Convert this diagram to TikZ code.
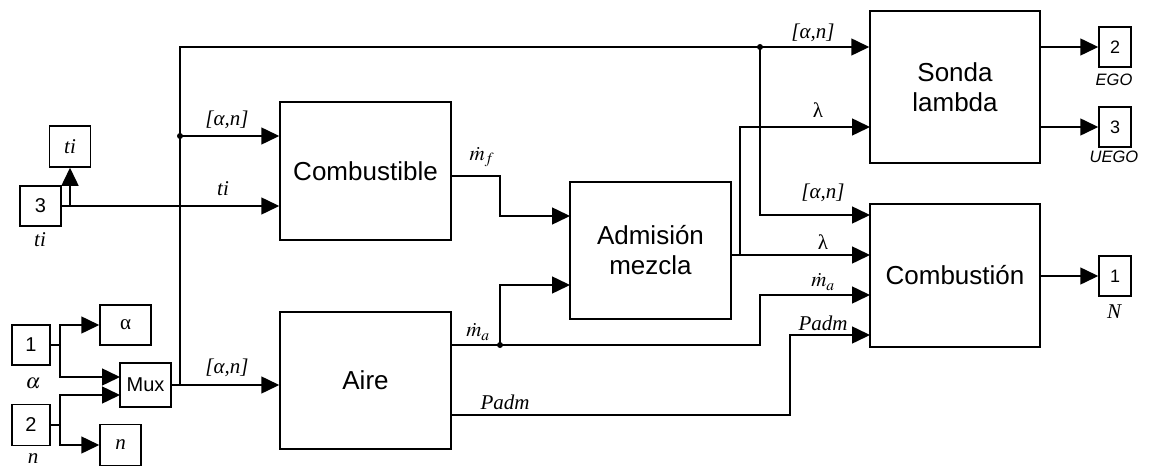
\documentclass[tikz,border=0pt]{standalone}
\usepackage{mathptmx}
\usepackage{fontspec}
\setmainfont{Liberation Serif}
\newfontfamily\lsans{Liberation Sans}
\newfontfamily\lser{Liberation Serif}
\usetikzlibrary{arrows.meta,calc}
\newcommand{\an}{{\lser\itshape[}{\lser α}{\lser\itshape,n]}}
\begin{document}
\begin{tikzpicture}[x=1pt,y=-1pt,line width=1.5pt,
  blk/.style={draw,rectangle,inner sep=0pt,align=center,font=\lsans\fontsize{26}{30}\selectfont},
  port/.style={draw,rectangle,inner sep=0pt,font=\lsans\fontsize{20}{24}\selectfont},
  oport/.style={draw,rectangle,inner sep=0pt,font=\lsans\fontsize{18}{22}\selectfont},
  lbl/.style={inner sep=0pt,font=\lser\itshape\fontsize{21}{25}\selectfont},
  slbl/.style={inner sep=0pt,font=\lsans\itshape\fontsize{16.5}{20}\selectfont},
  arr/.style={-{Triangle[length=18pt,width=17pt]}},
  dot/.style={fill=black}]
\useasboundingbox (0,0) rectangle (1151,468);
% blocks
\node[blk,minimum width=171,minimum height=138] (comb) at (365.5,171) {Combustible};
\node[blk,minimum width=161,minimum height=137] (adm) at (650.5,250.5) {Admisión\\mezcla};
\node[blk,minimum width=171,minimum height=137] (aire) at (365.5,380.5) {Aire};
\node[blk,minimum width=170,minimum height=152] (sonda) at (955,87) {Sonda\\lambda};
\node[blk,minimum width=170,minimum height=143] (combu) at (955,275.5) {Combustión};
% ports
\node[port,minimum width=41,minimum height=40] (in3) at (40.5,206) {3};
\node[port,minimum width=41,minimum height=41,font=\lser\itshape\fontsize{21}{25}\selectfont] (outti) at (70,146.5) {ti};
\node[port,minimum width=38,minimum height=40] (in1) at (31,345) {1};
\node[port,minimum width=38,minimum height=41] (in2) at (31,425) {2};
\node[port,minimum width=51,minimum height=40,font=\lser\fontsize{21}{25}\selectfont] (outa) at (125.5,325) {α};
\node[port,minimum width=41,minimum height=41,font=\lser\itshape\fontsize{21}{25}\selectfont] (outn) at (120.5,445) {n};
\node[port,minimum width=51,minimum height=44] (mux) at (145.5,385) {Mux};
\node[oport,minimum width=32,minimum height=40] (out2) at (1115,47) {2};
\node[oport,minimum width=32,minimum height=40] (out3) at (1115,127) {3};
\node[oport,minimum width=32,minimum height=40] (out1) at (1115,276) {1};
% coordinates
\coordinate (j3) at (70,206);
\coordinate (jm) at (180,385);
\coordinate (jtop) at (180,47);
\coordinate (d1) at (180,136);
\coordinate (d2) at (760,47);
\coordinate (j1) at (60,345);
\coordinate (j2) at (60,425);
\coordinate (mi1) at (120,377);
\coordinate (mi2) at (120,395);
\coordinate (cfo) at (451,176);
\coordinate (cfb) at (500,176);
\coordinate (cfc) at (500,216);
\coordinate (ai1) at (570,216);
\coordinate (ai2) at (570,285);
\coordinate (mao) at (451,345);
\coordinate (dma) at (500,345);
\coordinate (mab) at (760,345);
\coordinate (pao) at (451,415);
\coordinate (pab) at (790,415);
\coordinate (ado) at (731,255);
\coordinate (jl) at (740,255);
\coordinate (ci1) at (870,215);
\coordinate (ci2) at (870,255);
\coordinate (ci3) at (870,295);
\coordinate (ci4) at (870,335);
\coordinate (si2) at (870,127);
% connectors
\draw[arr] (in3.east) -- (in3.east -| comb.west);
\draw[arr] (j3) -- (outti.south);
\draw (in1.east) -- (j1);
\draw[arr] (j1) |- (outa.west);
\draw[arr] (j1) |- (mi1);
\draw (in2.east) -- (j2);
\draw[arr] (j2) |- (mi2);
\draw[arr] (j2) |- (outn.west);
\draw[arr] (mux.east) -- (mux.east -| aire.west);
\draw[arr] (jm) -- (jtop) -- (jtop -| sonda.west);
\draw[arr] (d1) -- (d1 -| comb.west);
\draw[arr] (d2) |- (ci1);
\draw[arr] (cfo) -- (cfb) -- (cfc) -- (ai1);
\draw (mao) -- (dma);
\draw[arr] (dma) |- (ai2);
\draw[arr] (dma) -- (mab) |- (ci3);
\draw[arr] (pao) -- (pab) |- (ci4);
\draw[arr] (ado) -- (ci2);
\draw[arr] (jl) |- (si2);
\draw[arr] (out2.west -| sonda.east) -- (out2.west);
\draw[arr] (out3.west -| sonda.east) -- (out3.west);
\draw[arr] (out1.west -| combu.east) -- (out1.west);
% dots
\fill[dot] (d1) circle (3pt);
\fill[dot] (d2) circle (3pt);
\fill[dot] (dma) circle (3pt);
% labels
\node[lbl] (la1) at (227,120) {\an};
\node[lbl] (la2) at (223,189) {ti};
\node[lbl] (la3) at (227,368) {\an};
\node[lbl] (la4) at (482,157) {$\dot m_f$};
\node[lbl] (la5) at (478,332) {$\dot m_a$};
\node[lbl] (la6) at (505,402) {Padm};
\node[lbl] (la7) at (813,33) {\an};
\node[lbl] (la8) at (818,110) {\lser\upshape λ};
\node[lbl] (la9) at (823,193) {\an};
\node[lbl] (la10) at (823,242) {\lser\upshape λ};
\node[lbl] (la11) at (823,282) {$\dot m_a$};
\node[lbl] (la12) at (823,323) {Padm};
\node[slbl] (la13) at (1114,80) {EGO};
\node[slbl] (la14) at (1114,157) {UEGO};
\node[lbl] (la15) at (1114,312) {N};
\node[lbl] (la16) at (40,240) {ti};
\node[lbl] (la17) at (33,383) {$\alpha$};
\node[lbl] (la18) at (33,459) {n};
\end{tikzpicture}
\end{document}
